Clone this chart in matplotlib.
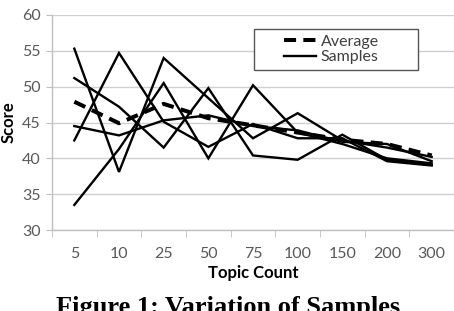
import matplotlib
matplotlib.use("Agg")
import numpy as np
import matplotlib.pyplot as plt
from matplotlib.patches import Rectangle

# category axis (topic counts)
topic_counts = ['5', '10', '25', '50', '75', '100', '150', '200', '300']

# five sample runs
sample_a = [55.3, 38.1, 54.0, 48.4, 42.8, 46.3, 42.5, 41.5, 40.2]
sample_b = [51.2, 47.2, 41.5, 49.8, 40.4, 39.8, 43.3, 39.8, 39.1]
sample_c = [44.5, 43.2, 45.3, 46.0, 44.5, 43.9, 42.3, 42.0, 39.6]
sample_d = [42.5, 54.7, 45.1, 41.6, 44.8, 42.8, 42.8, 39.6, 39.0]
sample_e = [33.5, 41.3, 50.5, 40.0, 50.2, 43.6, 42.0, 40.0, 39.3]
samples = [sample_a, sample_b, sample_c, sample_d, sample_e]

average = [47.9, 44.9, 47.6, 45.6, 44.6, 43.6, 42.6, 42.0, 40.4]

plt.rcParams['font.family'] = ['Lato', 'DejaVu Sans']

fig = plt.figure(figsize=(4.54, 3.11), dpi=100)
ax = fig.add_axes([52/454, 1-230/311, 1-52/454, 215/311])

x = np.arange(len(topic_counts))
for s in samples:
    ax.plot(x, s, color='black', lw=1.7, solid_joinstyle='miter')
ax.plot(x, average, color='black', lw=2.9, dashes=(3, 1.8))

ax.set_xlim(-0.5, len(topic_counts) - 0.5)
ax.set_ylim(30, 60)
ax.set_yticks(range(30, 61, 5))
ax.set_xticks(x)
ax.set_xticklabels(topic_counts)
ax.set_xticks(np.arange(-0.5, len(topic_counts), 1), minor=True)

ax.grid(axis='y', color='#d0d0d0', lw=1.0)
ax.set_axisbelow(True)
for side in ['top', 'right']:
    ax.spines[side].set_visible(False)
for side in ['left', 'bottom']:
    ax.spines[side].set_color('#bfbfbf')
    ax.spines[side].set_linewidth(1.0)

ax.tick_params(axis='y', length=4, color='#bfbfbf', labelsize=11.5,
               labelcolor='#595959', pad=4)
ax.tick_params(axis='x', which='major', length=0, labelsize=11.5,
               labelcolor='#595959', pad=12)
ax.tick_params(axis='x', which='minor', length=5, color='#bfbfbf')

ax.set_xlabel('Topic Count', fontsize=12, fontweight='bold', labelpad=3)
ax.set_ylabel('Score', fontsize=12, fontweight='bold', labelpad=4)

# legend box
ax.add_patch(Rectangle(((254-52)/402, 1-(70-15)/215), (418-254)/402, 41/215,
                       transform=ax.transAxes, facecolor='white',
                       edgecolor='#555555', lw=1.0, zorder=4))
ax.plot([], [], color='black', lw=2.9, dashes=(3, 1.8), label='Average')
ax.plot([], [], color='black', lw=1.7, label='Samples')
handles, labels = ax.get_legend_handles_labels()
leg = ax.legend(handles[-2:], labels[-2:], loc='center left',
                bbox_to_anchor=((284-52)/402, 1-(49.5-15)/215),
                frameon=False, fontsize=11.5, handlelength=2.0,
                handletextpad=0.3, labelspacing=0.1, borderpad=0,
                borderaxespad=0)
leg.set_zorder(5)
for t in leg.get_texts():
    t.set_color('#404040')

fig.text(228/454, 1-296/311, 'Figure 1: Variation of Samples',
         family='Liberation Serif', fontweight='bold', fontsize=19,
         ha='center', va='top')

fig.savefig('out.png', dpi=100)
